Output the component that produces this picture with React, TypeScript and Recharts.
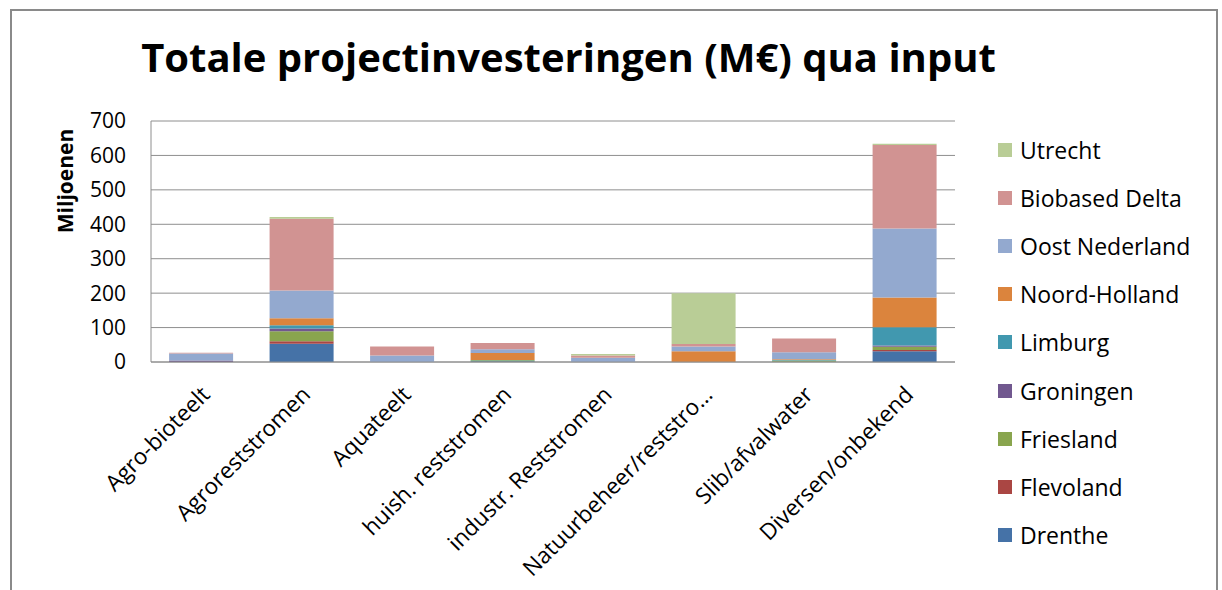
import React from "react";
import { Bar, BarChart, CartesianGrid, Legend, XAxis, YAxis } from "recharts";

const categories = [
  "Agro-bioteelt",
  "Agroreststromen",
  "Aquateelt",
  "huish. reststromen",
  "industr. Reststromen",
  "Natuurbeheer/reststro…",
  "Slib/afvalwater",
  "Diversen/onbekend",
];

// values in miljoenen (M€)
const drenthe = [0, 53, 0, 2, 0, 0, 1, 31];
const flevoland = [0, 7, 0, 0, 0, 0, 0, 4];
const friesland = [0, 29, 0, 3, 0, 0, 3, 9];
const groningen = [4, 8, 0, 0, 0, 0, 0, 4];
const limburg = [0, 10, 0, 1, 0, 0, 2, 53];
const noordHolland = [0, 20, 0, 20, 0, 31, 2, 86];
const oostNederland = [21, 81, 19, 11, 12, 14, 20, 201];
const biobasedDelta = [2, 208, 26, 18, 7, 7, 40, 242];
const utrecht = [0, 5, 0, 0, 4, 148, 0, 4];

const yTicks = [0, 100, 200, 300, 400, 500, 600, 700];

const series = [
  { key: "Drenthe", values: drenthe, color: "#4572A7" },
  { key: "Flevoland", values: flevoland, color: "#AA4643" },
  { key: "Friesland", values: friesland, color: "#89A54E" },
  { key: "Groningen", values: groningen, color: "#71588F" },
  { key: "Limburg", values: limburg, color: "#4198AF" },
  { key: "Noord-Holland", values: noordHolland, color: "#DB843D" },
  { key: "Oost Nederland", values: oostNederland, color: "#93A9CF" },
  { key: "Biobased Delta", values: biobasedDelta, color: "#D19392" },
  { key: "Utrecht", values: utrecht, color: "#B9CD96" },
];

const data = categories.map((name, i) => {
  const row: Record<string, string | number> = { name };
  series.forEach((s) => (row[s.key] = s.values[i]));
  return row;
});

const FONT = "'Open Sans', sans-serif";

function XTick({ x, y, payload }: any) {
  const tx = x + 4;
  const ty = y + 28;
  return (
    <text
      x={tx}
      y={ty}
      transform={`rotate(-45, ${tx}, ${ty})`}
      textAnchor="end"
      dominantBaseline="central"
      fontSize={22.5}
      fontFamily={FONT}
      fill="#000"
    >
      {payload.value}
    </text>
  );
}

function LegendList({ payload }: any) {
  const order = series.map((s) => s.key);
  // Utrecht on top, like the stack
  const items = [...(payload || [])].sort(
    (a: any, b: any) => order.indexOf(b.value) - order.indexOf(a.value)
  );
  return (
    <div style={{ fontFamily: FONT, fontSize: 23, color: "#000" }}>
      {items.map((p: any) => (
        <div key={p.value} style={{ height: 48.1, display: "flex", alignItems: "center" }}>
          <span style={{ width: 14, height: 14, background: p.color, marginRight: 8, display: "inline-block" }} />
          <span>{p.value}</span>
        </div>
      ))}
    </div>
  );
}

export default function App() {
  return (
    <div
      style={{
        position: "absolute",
        left: 10,
        top: 9,
        width: 1208,
        height: 581,
        borderTop: "2px solid #8a8a8a",
        borderLeft: "2px solid #8a8a8a",
        borderRight: "2px solid #8a8a8a",
        boxSizing: "border-box",
        background: "#fff",
      }}
    >
      <div
        style={{
          position: "absolute",
          left: 0,
          top: 25.5,
          width: 1113,
          textAlign: "center",
          fontFamily: FONT,
          fontWeight: 700,
          fontSize: 40,
          lineHeight: "40px",
          color: "#000",
        }}
      >
        Totale projectinvesteringen (M€) qua input
      </div>
      <div
        style={{
          position: "absolute",
          left: 53 - 100,
          top: 170 - 14,
          width: 200,
          height: 28,
          lineHeight: "28px",
          textAlign: "center",
          transform: "rotate(-90deg)",
          fontFamily: FONT,
          fontWeight: 700,
          fontSize: 21,
          color: "#000",
          zIndex: 2,
        }}
      >
        Miljoenen
      </div>
      <BarChart
        width={1204}
        height={579}
        data={data}
        margin={{ top: 110, right: 261, left: 59, bottom: 28 }}
        barCategoryGap="18%"
      >
        <CartesianGrid vertical={false} stroke="#8e8e8e" />
        <XAxis
          dataKey="name"
          interval={0}
          height={200}
          tickLine={false}
          tickSize={0}
          tickMargin={0}
          axisLine={{ stroke: "#8e8e8e" }}
          tick={<XTick />}
        />
        <YAxis
          width={80}
          domain={[0, 700]}
          ticks={yTicks}
          interval={0}
          tickLine={false}
          tickSize={0}
          tickMargin={25}
          axisLine={{ stroke: "#8e8e8e" }}
          tick={{ fontSize: 21, fontFamily: FONT, fill: "#000" }}
        />
        <Legend
          layout="vertical"
          align="center"
          verticalAlign="middle"
          wrapperStyle={{ left: 986, top: 115, width: 220 }}
          content={<LegendList />}
        />
        {series.map((s) => (
          <Bar key={s.key} dataKey={s.key} stackId="a" fill={s.color} isAnimationActive={false} />
        ))}
      </BarChart>
    </div>
  );
}
